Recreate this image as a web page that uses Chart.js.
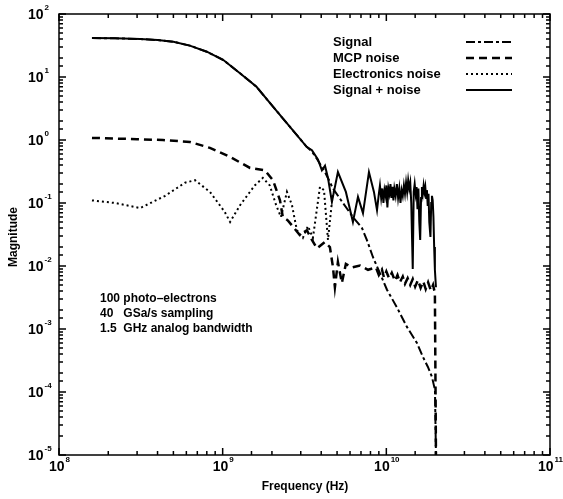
<!DOCTYPE html>
<html>
<head>
<meta charset="utf-8">
<script src="https://cdn.jsdelivr.net/npm/chart.js@4.4.0/dist/chart.umd.min.js"></script>
<style>
  html, body { margin: 0; padding: 0; background: #fff; }
</style>
</head>
<body>
<canvas id="c" width="563" height="499"></canvas>
<script>
// Spectrum of a simulated MCP pulse: signal, noise terms and their sum (log-log).

const FONT = "'Liberation Sans', Arial, sans-serif";
const INK = "#000";

// --- values (frequency in Hz, magnitude) ---
const signalFreq = [1.59e8, 2.2e8, 3.13e8, 4.0e8, 5.0e8, 6.3e8, 8.0e8, 1.01e9, 1.27e9, 1.61e9,
  2.03e9, 2.57e9, 3.26e9, 3.51e9, 3.77e9, 4.22e9, 4.72e9, 5.43e9, 6.25e9, 7.1e9, 7.6e9, 8.28e9,
  9.14e9, 1.009e10, 1.161e10, 1.336e10, 1.538e10, 1.674e10, 1.795e10, 1.9e10, 1.982e10, 2.01e10];
const signalMag = [41.5, 41.2, 40.1, 38.6, 36.3, 31.5, 25.2, 18.6, 11.6, 7.0,
  3.38, 1.63, 0.78, 0.66, 0.5, 0.31, 0.17, 0.10, 0.06, 0.040, 0.026, 0.0139,
  0.0077, 0.0042, 0.0022, 0.00108, 6.0e-4, 3.6e-4, 2.5e-4, 1.73e-4, 1.08e-4, 1e-5];

const mcpFreq = [1.59e8, 3.0e8, 4.32e8, 6.31e8, 8.36e8, 1.11e9, 1.47e9, 1.81e9, 2.03e9, 2.24e9,
  2.33e9, 2.5e9, 2.69e9, 2.96e9, 3.27e9, 3.51e9, 3.77e9, 4.21e9, 4.52e9, 4.72e9, 4.85e9, 5.06e9,
  5.35e9, 5.66e9, 6.16e9, 6.9e9, 7.73e9, 8.64e9, 9.0e9, 9.4e9, 9.67e9, 1.0e10, 1.04e10, 1.08e10,
  1.13e10, 1.17e10, 1.21e10, 1.26e10, 1.3e10, 1.35e10, 1.4e10, 1.45e10, 1.5e10, 1.56e10,
  1.62e10, 1.68e10, 1.74e10, 1.8e10, 1.87e10, 1.93e10, 1.98e10, 2.01e10];
const mcpMag = [1.08, 1.03, 1.0, 0.93, 0.75, 0.54, 0.36, 0.33, 0.23, 0.11,
  0.06, 0.053, 0.042, 0.031, 0.037, 0.026, 0.019, 0.024, 0.020, 0.0096, 0.0046, 0.0116,
  0.0054, 0.0108, 0.0095, 0.0102, 0.0087, 0.0095, 0.0072, 0.0088, 0.0066, 0.0082, 0.0064, 0.0078,
  0.0058, 0.0072, 0.0055, 0.0068, 0.0052, 0.0064, 0.0050, 0.0062, 0.0047, 0.0060,
  0.0045, 0.0057, 0.0043, 0.0055, 0.0041, 0.0050, 0.0037, 1e-5];

// above ~5 GHz the electronics noise sits under the signal + noise curve
const elecFreq = [1.59e8, 2.2e8, 3.13e8, 4.45e8, 5.89e8, 6.78e8, 8.36e8, 1.03e9, 1.11e9, 1.28e9,
  1.57e9, 1.76e9, 1.94e9, 2.12e9, 2.27e9, 2.47e9, 2.65e9, 2.84e9, 3.09e9, 3.32e9, 3.56e9,
  3.93e9, 4.16e9, 4.40e9, 4.72e9];
const elecMag = [0.11, 0.10, 0.083, 0.13, 0.21, 0.23, 0.15, 0.072, 0.05, 0.093,
  0.19, 0.25, 0.19, 0.093, 0.06, 0.15, 0.093, 0.037, 0.028, 0.043, 0.028,
  0.18, 0.16, 0.026, 0.15];

const sumFreq = [1.59e8, 2.2e8, 3.13e8, 4.0e8, 5.0e8, 6.3e8, 8.0e8, 1.01e9, 1.27e9, 1.61e9,
  2.03e9, 2.57e9, 3.26e9, 3.51e9, 3.82e9, 4.04e9, 4.22e9, 4.40e9, 4.65e9, 5.06e9, 5.66e9,
  6.25e9, 6.71e9, 7.2e9, 7.83e9, 8.4e9, 8.77e9,
  9.0e9, 9.14e9, 9.3e9, 9.45e9, 9.6e9, 9.75e9, 9.9e9, 1.0e10, 1.015e10, 1.03e10, 1.045e10,
  1.06e10, 1.075e10, 1.09e10, 1.105e10, 1.12e10, 1.14e10, 1.16e10, 1.18e10, 1.2e10, 1.22e10,
  1.24e10, 1.26e10, 1.28e10, 1.3e10, 1.32e10, 1.34e10, 1.36e10, 1.38e10, 1.4e10, 1.42e10,
  1.44e10, 1.45e10, 1.47e10, 1.49e10, 1.51e10, 1.53e10, 1.55e10, 1.57e10, 1.59e10, 1.61e10,
  1.63e10, 1.65e10, 1.67e10, 1.69e10, 1.71e10, 1.73e10, 1.75e10, 1.77e10, 1.79e10, 1.81e10,
  1.83e10, 1.86e10, 1.88e10, 1.9e10, 1.92e10, 1.94e10, 1.96e10, 1.98e10, 2.01e10];
const sumMag = [41.5, 41.2, 40.1, 38.6, 36.3, 31.5, 25.2, 18.6, 11.6, 7.0,
  3.38, 1.63, 0.78, 0.69, 0.49, 0.33, 0.39, 0.25, 0.104, 0.31, 0.15,
  0.05, 0.125, 0.069, 0.31, 0.15, 0.077,
  0.14, 0.19, 0.12, 0.17, 0.10, 0.16, 0.13, 0.19, 0.085, 0.17, 0.14,
  0.20, 0.12, 0.18, 0.11, 0.17, 0.13, 0.20, 0.12, 0.17, 0.10,
  0.16, 0.13, 0.19, 0.14, 0.21, 0.15, 0.23, 0.17, 0.21, 0.10,
  0.02, 0.009, 0.15, 0.20, 0.14, 0.18, 0.08, 0.17, 0.05, 0.026,
  0.12, 0.18, 0.14, 0.19, 0.15, 0.18, 0.12, 0.16, 0.09, 0.14,
  0.05, 0.029, 0.10, 0.13, 0.11, 0.06, 0.02, 0.0087, 0.0046];

const LABELS = ["Signal", "MCP noise", "Electronics noise", "Signal + noise"];
const NOTES = ["100 photo\u2013electrons", "40   GSa/s sampling", "1.5  GHz analog bandwidth"];

const pts = (xs, ys) => xs.map((x, i) => ({ x, y: ys[i] }));

const isDecade = (v) => Math.abs(Math.log10(v) - Math.round(Math.log10(v))) < 1e-6;

// "10" with a raised exponent, drawn by hand so it looks like the original
function drawPower(ctx, exp, x, y, align) {
  const base = "10", sup = String(exp);
  ctx.font = "bold 14px " + FONT;
  const wb = ctx.measureText(base).width;
  ctx.font = "bold 8px " + FONT;
  const ws = ctx.measureText(sup).width;
  let left = x;
  if (align === "center") left = x - (wb + ws) / 2;
  ctx.textAlign = "left";
  ctx.textBaseline = "middle";
  ctx.font = "bold 14px " + FONT;
  ctx.fillText(base, left, y);
  ctx.font = "bold 8px " + FONT;
  ctx.fillText(sup, left + wb + 1, y - 7);
}

// frame, inward ticks on all four sides, tick labels, axis titles, legend and notes
const frame = {
  id: "frame",
  afterDraw(chart) {
    const { ctx, chartArea: a, scales } = chart;
    const xs = scales.x, ys = scales.y;
    ctx.save();
    ctx.strokeStyle = INK;
    ctx.fillStyle = INK;
    ctx.setLineDash([]);
    ctx.lineWidth = 1.5;
    ctx.strokeRect(a.left, a.top, a.right - a.left, a.bottom - a.top);

    xs.ticks.forEach((t) => {
      const px = xs.getPixelForValue(t.value);
      const len = isDecade(t.value) ? 7 : 4;
      ctx.beginPath();
      ctx.moveTo(px, a.bottom); ctx.lineTo(px, a.bottom - len);
      ctx.moveTo(px, a.top); ctx.lineTo(px, a.top + len);
      ctx.stroke();
      if (isDecade(t.value)) drawPower(ctx, Math.round(Math.log10(t.value)), px, a.bottom + 12, "center");
    });
    ys.ticks.forEach((t) => {
      const py = ys.getPixelForValue(t.value);
      const len = isDecade(t.value) ? 7 : 4;
      ctx.beginPath();
      ctx.moveTo(a.left, py); ctx.lineTo(a.left + len, py);
      ctx.moveTo(a.right, py); ctx.lineTo(a.right - len, py);
      ctx.stroke();
      if (isDecade(t.value)) drawPower(ctx, Math.round(Math.log10(t.value)), 28, py + 1, "left");
    });

    ctx.font = "bold 12px " + FONT;
    ctx.textAlign = "center";
    ctx.textBaseline = "middle";
    ctx.fillText("Frequency (Hz)", 305, 487);
    ctx.save();
    ctx.translate(14, 237);
    ctx.rotate(-Math.PI / 2);
    ctx.fillText("Magnitude", 0, 0);
    ctx.restore();

    // legend: label on the left, line sample on the right
    ctx.font = "bold 13px " + FONT;
    ctx.textAlign = "left";
    chart.data.datasets.forEach((ds, i) => {
      const y = 42 + i * 16;
      ctx.fillText(LABELS[i], 333, y);
      ctx.beginPath();
      ctx.lineWidth = ds.borderWidth;
      ctx.setLineDash(ds.borderDash || []);
      ctx.moveTo(466, y); ctx.lineTo(512, y);
      ctx.stroke();
    });
    ctx.setLineDash([]);

    ctx.font = "bold 12px " + FONT;
    NOTES.forEach((s, i) => ctx.fillText(s, 100, 299 + i * 15));
    ctx.restore();
  },
};

const line = (label, data, dash, width, order) => ({
  label, data, order,
  borderColor: INK,
  borderWidth: width,
  borderDash: dash,
  pointRadius: 0,
  tension: 0,
  fill: false,
});

new Chart(document.getElementById("c"), {
  type: "line",
  data: {
    datasets: [
      line(LABELS[0], pts(signalFreq, signalMag), [9, 3, 3, 3], 2, 0),
      line(LABELS[1], pts(mcpFreq, mcpMag), [8, 5], 2.5, 1),
      line(LABELS[2], pts(elecFreq, elecMag), [2, 3], 2, 3),
      line(LABELS[3], pts(sumFreq, sumMag), [], 2, 2),
    ],
  },
  options: {
    responsive: false,
    animation: false,
    devicePixelRatio: 1,
    layout: { padding: { top: 14, right: 13, left: 0, bottom: 0 } },
    plugins: { legend: { display: false }, tooltip: { enabled: false } },
    scales: {
      x: {
        type: "logarithmic", min: 1e8, max: 1e11,
        ticks: { display: false }, grid: { display: false }, border: { display: false },
        afterFit: (s) => { s.height = 44; },
      },
      y: {
        type: "logarithmic", min: 1e-5, max: 1e2,
        ticks: { display: false }, grid: { display: false }, border: { display: false },
        afterFit: (s) => { s.width = 59; },
      },
    },
  },
  plugins: [frame],
});
</script>
</body>
</html>
